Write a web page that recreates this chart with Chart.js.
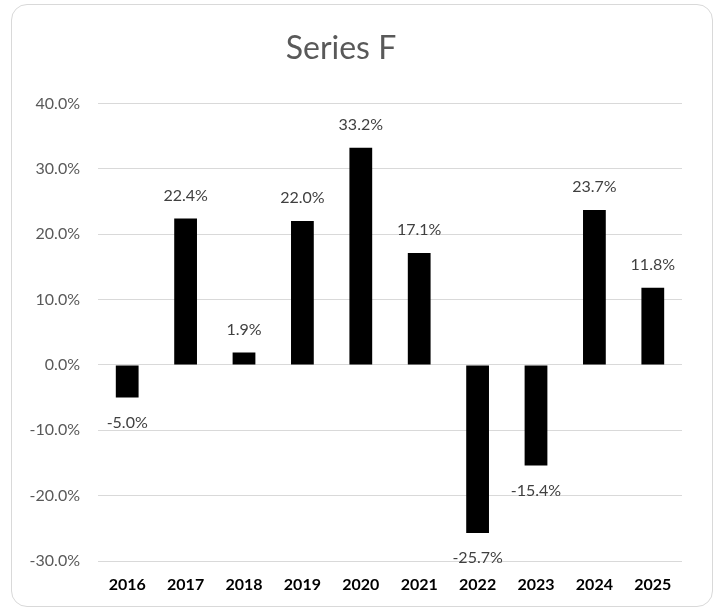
<!DOCTYPE html>
<html>
<head>
<meta charset="utf-8">
<script src="https://cdn.jsdelivr.net/npm/chart.js@4.4.0/dist/chart.umd.min.js"></script>
<style>
  body { margin: 0; background: #ffffff; }
  #wrap { position: relative; width: 717px; height: 609px; }
  #frame {
    position: absolute; left: 11px; top: 4px; width: 702px; height: 603px;
    border: 1.5px solid #d9d9d9; border-radius: 16px; box-sizing: border-box;
  }
  canvas { position: absolute; left: 0; top: 0; }
</style>
</head>
<body>
<div id="wrap">
  <div id="frame"></div>
  <canvas id="chart" width="717" height="609"></canvas>
</div>
<script>
let years = ["2016", "2017", "2018", "2019", "2020", "2021", "2022", "2023", "2024", "2025"];
let seriesF = [-5.0, 22.4, 1.9, 22.0, 33.2, 17.1, -25.7, -15.4, 23.7, 11.8];
let yTicks = [-30, -20, -10, 0, 10, 20, 30, 40];

let fontName = "Lato, 'Open Sans', sans-serif";

// labels above/below each bar end
let barLabels = {
  id: "barLabels",
  afterDatasetsDraw: function(chart) {
    let ctx = chart.ctx;
    let meta = chart.getDatasetMeta(0);
    ctx.save();
    ctx.font = "16px " + fontName;
    ctx.fillStyle = "#404040";
    ctx.textAlign = "center";
    ctx.textBaseline = "middle";
    meta.data.forEach(function(bar, i) {
      let v = seriesF[i];
      let y = v >= 0 ? bar.y - 23 : bar.y + 25;
      ctx.fillText(v.toFixed(1) + "%", bar.x, y);
    });
    ctx.restore();
  }
};

let ctx = document.getElementById("chart").getContext("2d");
let myChart = new Chart(ctx, {
  type: "bar",
  data: {
    labels: years,
    datasets: [
      {
        label: "Series F",
        data: seriesF,
        backgroundColor: "#000000",
        categoryPercentage: 1.0,
        barPercentage: 0.39
      }
    ]
  },
  options: {
    responsive: false,
    animation: false,
    layout: { padding: { left: 0, right: 35, top: 0, bottom: 0 } },
    plugins: {
      legend: { display: false },
      tooltip: { enabled: false },
      title: {
        display: true,
        text: "Series F",
        color: "#595959",
        font: { family: fontName, size: 32, weight: "normal" },
        padding: { top: 29, bottom: 36 }
      }
    },
    scales: {
      x: {
        grid: { display: false, drawTicks: false },
        border: { display: false },
        ticks: {
          color: "#000000",
          font: { family: fontName, size: 16, weight: "bold" },
          padding: 14
        },
        afterFit: function(scale) { scale.height = 48; }
      },
      y: {
        min: yTicks[0],
        max: yTicks[yTicks.length - 1],
        afterBuildTicks: function(scale) {
          scale.ticks = yTicks.map(function(v) { return { value: v }; });
        },
        grid: { color: "#d9d9d9", lineWidth: 1, drawTicks: false },
        border: { display: false },
        ticks: {
          color: "#595959",
          font: { family: fontName, size: 16 },
          padding: 18,
          callback: function(v) { return v.toFixed(1) + "%"; }
        },
        afterFit: function(scale) { scale.width = 98; }
      }
    }
  },
  plugins: [barLabels]
});
</script>
</body>
</html>
